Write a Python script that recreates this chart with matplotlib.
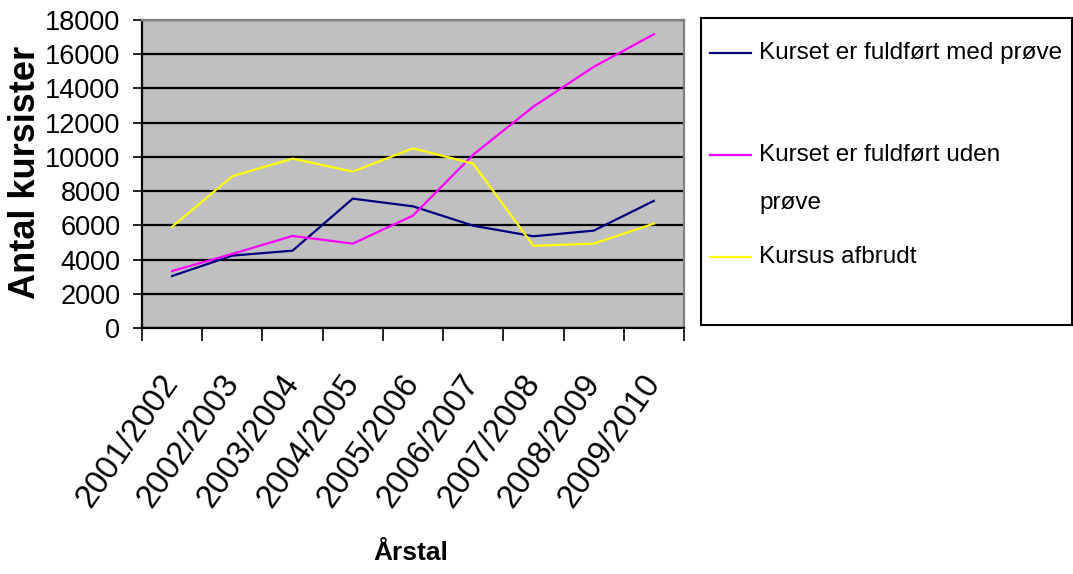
import matplotlib
matplotlib.use("Agg")
import matplotlib.pyplot as plt
from matplotlib.lines import Line2D

plt.rcParams['font.family'] = ['Liberation Sans', 'DejaVu Sans']

years = ["2001/2002", "2002/2003", "2003/2004", "2004/2005", "2005/2006",
         "2006/2007", "2007/2008", "2008/2009", "2009/2010"]
med_proeve = [3040, 4230, 4520, 7560, 7110, 5980, 5360, 5690, 7430]
uden_proeve = [3330, 4330, 5380, 4930, 6570, 10130, 12940, 15260, 17170]
afbrudt = [5920, 8870, 9900, 9140, 10500, 9600, 4800, 4930, 6100]

series_labels = ["Kurset er fuldført med prøve",
                 "Kurset er fuldført uden\nprøve",
                 "Kursus afbrudt"]
colors = ["#000080", "#FF00FF", "#FFFF00"]

W, H = 1073, 574
fig = plt.figure(figsize=(W / 100, H / 100), dpi=100)
ax = fig.add_axes([142 / W, 1 - 328 / H, 542 / W, 308 / H])
ax.set_facecolor("#C0C0C0")

x = list(range(len(years)))
for vals, c in zip([med_proeve, uden_proeve, afbrudt], colors):
    ax.plot(x, vals, color=c, lw=1.6, solid_joinstyle='miter')

ax.set_xlim(-0.5, len(years) - 0.5)
ax.set_ylim(0, 18000)
ax.set_yticks(range(0, 18001, 2000))
ax.yaxis.grid(True, color="black", lw=1.6)
ax.set_axisbelow(True)
ax.tick_params(axis='y', direction='out', length=6.5, width=1.2, pad=9,
               labelsize=19.5)

ax.set_xticks(x)
ax.set_xticklabels(years, rotation=55, ha='right', va='center',
                   rotation_mode='anchor', fontsize=23.5)
ax.tick_params(axis='x', which='major', length=0, pad=36)
ax.set_xticks([i - 0.5 for i in range(len(years) + 1)], minor=True)
ax.tick_params(axis='x', which='minor', direction='out', length=9, width=1.2)

for s in ['left', 'bottom']:
    ax.spines[s].set_color('black')
    ax.spines[s].set_linewidth(1.6)
for s in ['top', 'right']:
    ax.spines[s].set_color('#808080')
    ax.spines[s].set_linewidth(1.6)

fig.text(26 / W, 1 - 172 / H, "Antal kursister", rotation=90, fontsize=26,
         fontweight='bold', ha='center', va='center')
fig.text(411 / W, 1 - 553 / H, "Årstal", fontsize=19, fontweight='bold',
         ha='center', va='center')

# legend box
lw_, lh_ = 371, 307
lax = fig.add_axes([701 / W, 1 - 325 / H, lw_ / W, lh_ / H])
lax.set_xlim(0, lw_)
lax.set_ylim(lh_, 0)
lax.set_xticks([])
lax.set_yticks([])
for s in lax.spines.values():
    s.set_color('black')
    s.set_linewidth(1.5)
ys_line = [35, 137, 239]
for yl, c, lab in zip(ys_line, colors, series_labels):
    lax.add_line(Line2D([9, 50], [yl, yl], color=c, lw=1.6))
    parts = lab.split("\n")
    for k, p in enumerate(parts):
        lax.text(58, yl + k * 48, p, fontsize=17.5, ha='left', va='center')

fig.savefig("out.png", dpi=100)
